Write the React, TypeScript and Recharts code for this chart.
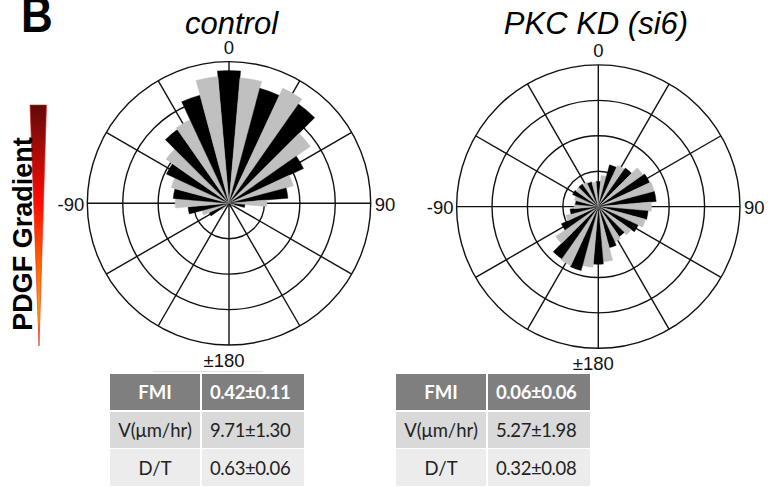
import React from "react";
import {
  RadialBarChart,
  RadialBar,
  PolarGrid,
  PolarAngleAxis,
  PolarRadiusAxis,
  Cell,
} from "recharts";

// 10 degree bins, clockwise from the top of the plot (direction of the gradient)
const angleBins = [
  0, 10, 20, 30, 40, 50, 60, 70, 80, 90, 100, 110, 120, 130, 140, 150, 160, 170,
  180, 190, 200, 210, 220, 230, 240, 250, 260, 270, 280, 290, 300, 310, 320, 330, 340, 350,
];

// bar length per bin, outer ring = 4
const controlValues = [
  3.75, 3.56, 3.36, 3.59, 3.42, 2.8, 2.32, 1.88, 1.67, 1.07, 0.45, 0.15, 0.05, 0, 0, 0, 0, 0,
  0, 0, 0, 0, 0.05, 0.28, 0.62, 0.79, 1.16, 1.52, 1.58, 1.69, 1.95, 2.17, 2.54, 2.6, 3.16, 3.59,
];

const kdValues = [
  0.71, 0.88, 1.22, 1.29, 1.33, 1.55, 1.6, 1.64, 1.64, 1.5, 1.41, 1.38, 1.24, 1.13, 1.03, 1.1, 1.2, 1.57,
  1.63, 1.72, 1.87, 1.84, 1.8, 1.47, 1.15, 0.95, 0.8, 0.68, 0.65, 0.7, 0.8, 0.77, 0.78, 0.76, 0.72, 0.7,
];

const ringTicks = [0, 1, 2, 3, 4];
const spokeAngles = [0, 30, 60, 90, 120, 150, 180, 210, 240, 270, 300, 330];
const axisLabels: Record<number, string> = { 0: "0", 90: "90", 180: "±180", 270: "-90" };

const tableHeads = ["FMI", "V(μm/hr)", "D/T"];
const controlStats = ["0.42±0.11", "9.71±1.30", "0.63±0.06"];
const kdStats = ["0.06±0.06", "5.27±1.98", "0.32±0.08"];

const BLACK = "#000000";
const GRAY = "#c0c0c0";
const R = 141.7;

const AngleTick = (props: any) => {
  const v = props.payload.value;
  const label = axisLabels[v];
  if (!label) return <g />;
  const th = (v * Math.PI) / 180;
  const gap = v === 90 || v === 270 ? 4 : 8;
  let x = props.cx0 + (R + gap) * Math.sin(th);
  let y = props.cy0 - (R + gap) * Math.cos(th);
  let anchor = "middle";
  let baseline = "central";
  if (v === 0) baseline = "auto";
  if (v === 180) {
    baseline = "hanging";
    x -= 5;
  }
  if (v === 90) {
    anchor = "start";
    y += 1;
  }
  if (v === 270) {
    anchor = "end";
    x += 1;
    y += 1;
  }
  return (
    <text
      x={x}
      y={y}
      textAnchor={anchor}
      dominantBaseline={baseline}
      fontFamily="Liberation Sans, Arial, sans-serif"
      fontSize={18.5}
      fill="#111"
    >
      {label}
    </text>
  );
};

const Rose = ({ values, cx, cy }: { values: number[]; cx: number; cy: number }) => {
  const data = angleBins.map((a, i) => ({ angle: a, value: values[i] }));
  return (
    <RadialBarChart
      width={368}
      height={360}
      data={data}
      cx={cx}
      cy={cy}
      innerRadius={0}
      outerRadius={R}
      startAngle={85}
      endAngle={-275}
      layout="centric"
      barCategoryGap={0}
      margin={{ top: 0, right: 0, bottom: 0, left: 0 }}
    >
      <PolarGrid
        gridType="circle"
        polarAngles={spokeAngles}
        stroke="#111"
        strokeWidth={1.4}
        strokeOpacity={1}
      />
      <PolarAngleAxis
        type="category"
        dataKey="angle"
        axisLine={false}
        tickLine={false}
        tick={(p: any) => <AngleTick {...p} cx0={cx} cy0={cy} />}
      />
      <PolarRadiusAxis
        type="number"
        domain={[0, 4]}
        ticks={ringTicks}
        tick={false}
        axisLine={false}
      />
      <RadialBar dataKey="value" isAnimationActive={false}>
        {data.map((d, i) => (
          <Cell
            key={d.angle}
            fill={i % 2 === 0 ? BLACK : GRAY}
            stroke={i % 2 === 0 ? BLACK : GRAY}
            strokeWidth={0.4}
          />
        ))}
      </RadialBar>
    </RadialBarChart>
  );
};

const StatsTable = ({ stats, left }: { stats: string[]; left: number }) => {
  const rowBg = ["#7f7f7f", "#d9d9d9", "#ececec"];
  const rowTop = [374, 412, 449];
  const rowH = [36, 36, 37];
  return (
    <div style={{ position: "absolute", left, top: 0 }}>
      {tableHeads.map((h, i) => (
        <React.Fragment key={h}>
          <div
            style={{
              position: "absolute",
              left: 0,
              top: rowTop[i],
              width: 90,
              height: rowH[i],
              background: rowBg[i],
              color: i === 0 ? "#fff" : "#222",
              fontWeight: i === 0 ? 700 : 400,
              fontFamily: "Lato, sans-serif",
              fontSize: 18.5,
              display: "flex",
              alignItems: "center",
              justifyContent: "center",
            }}
          >
            {h}
          </div>
          <div
            style={{
              position: "absolute",
              left: 92,
              top: rowTop[i],
              width: 102,
              height: rowH[i],
              background: rowBg[i],
              color: i === 0 ? "#fff" : "#222",
              fontWeight: i === 0 ? 700 : 400,
              fontFamily: "Lato, sans-serif",
              fontSize: 18.5,
              letterSpacing: -0.4,
              display: "flex",
              alignItems: "center",
              paddingLeft: 8,
              boxSizing: "border-box",
            }}
          >
            {stats[i]}
          </div>
        </React.Fragment>
      ))}
    </div>
  );
};

export default function App() {
  return (
    <div
      style={{
        position: "absolute",
        left: 0,
        top: 0,
        width: 768,
        height: 487,
        background: "#fff",
        overflow: "hidden",
        fontFamily: "Liberation Sans, Arial, sans-serif",
      }}
    >
      <div
        style={{
          position: "absolute",
          left: 21,
          top: -4,
          fontSize: 44,
          fontWeight: 700,
          lineHeight: "44px",
          transform: "scaleY(1.15)",
          transformOrigin: "50% 100%",
        }}
      >
        B
      </div>

      <svg width={60} height={360} style={{ position: "absolute", left: 0, top: 0 }}>
        <defs>
          <linearGradient id="pdgf" x1="0" y1="0" x2="0" y2="1">
            <stop offset="0%" stopColor="#5e0b0b" />
            <stop offset="40%" stopColor="#ff0a00" />
            <stop offset="70%" stopColor="#ff7000" />
            <stop offset="90%" stopColor="#ffb000" />
            <stop offset="100%" stopColor="#ff2000" />
          </linearGradient>
        </defs>
        <polygon points="30,105 46.5,105 39,346" fill="url(#pdgf)" stroke="#e02020" strokeWidth={0.6} />
        <text
          transform="translate(31.5,234) rotate(-90)"
          textAnchor="middle"
          fontFamily="Liberation Sans, Arial, sans-serif"
          fontWeight={700}
          fontSize={27}
          fill="#000"
        >
          PDGF Gradient
        </text>
      </svg>

      <div
        style={{
          position: "absolute",
          left: 131.5,
          width: 200,
          top: 9,
          textAlign: "center",
          fontSize: 31,
          lineHeight: "30px",
          fontStyle: "italic",
        }}
      >
        control
      </div>
      <div
        style={{
          position: "absolute",
          left: 496,
          width: 200,
          top: 9,
          textAlign: "center",
          fontSize: 31,
          lineHeight: "30px",
          fontStyle: "italic",
        }}
      >
        PKC KD (si6)
      </div>

      <div style={{ position: "absolute", left: 48, top: 25 }}>
        <Rose values={controlValues} cx={181} cy={178.3} />
      </div>
      <div style={{ position: "absolute", left: 405, top: 25 }}>
        <Rose values={kdValues} cx={193.3} cy={181.6} />
      </div>

      <div style={{ position: "absolute", left: 153, top: 371, width: 110, height: 1, background: "#e2e2e2" }} />
      <StatsTable stats={controlStats} left={110} />
      <StatsTable stats={kdStats} left={396} />
    </div>
  );
}
